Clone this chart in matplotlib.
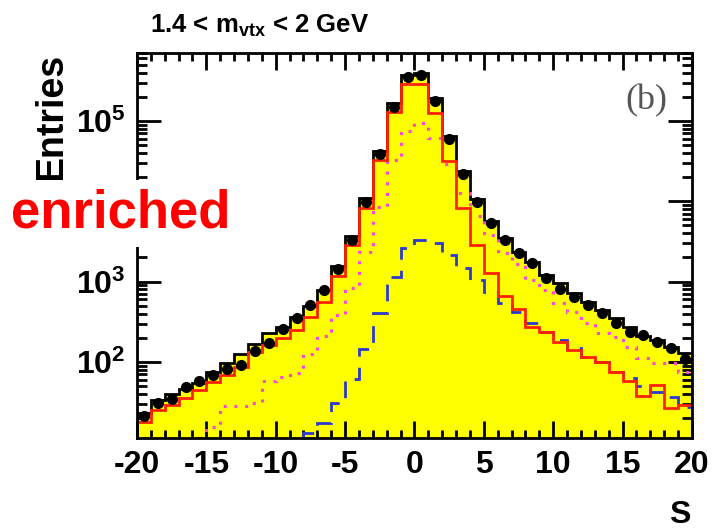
import numpy as np
import matplotlib
matplotlib.use("Agg")
import matplotlib.pyplot as plt
from matplotlib.ticker import FixedLocator, MultipleLocator, NullFormatter

plt.rcParams["font.family"] = ["Liberation Sans", "DejaVu Sans"]
plt.rcParams["mathtext.fontset"] = "custom"
plt.rcParams["mathtext.rm"] = "Liberation Sans"
plt.rcParams["mathtext.bf"] = "Liberation Sans:bold"
plt.rcParams["axes.unicode_minus"] = False

# bin edges for S (1 unit bins from -20 to 20)
edges = np.arange(-20, 21, 1)

# data points (black dots)
data = [21, 31, 35, 49, 58, 68, 82, 92, 138, 174,
        260, 350, 513, 789, 1426, 3300, 9900, 38600, 151000, 351000,
        375000, 179000, 59800, 21900, 9900, 5330, 3300, 2256, 1694, 1101,
        811, 650, 513, 411, 309, 238, 217, 179, 148, 108]

# total simulation (yellow filled, black outline)
total = [23, 33.6, 40, 45.7, 54.3, 75.7, 96, 126, 168, 228,
         275, 367, 502, 789, 1581, 3741, 11120, 42760, 166700, 375000,
         393700, 192300, 64000, 23450, 10620, 5700, 3470, 2365, 1776, 1211,
         955, 717, 564, 444, 350, 275, 211, 188, 155, 128]

# red solid component
red = [18.1, 25.2, 29.1, 35.3, 44.8, 56.9, 68.9, 87.4, 134, 163,
       197, 250, 367, 553, 1178, 2864, 8200, 32800, 127400, 289700,
       285000, 125000, 32100, 8200, 2864, 1294, 670, 457, 275, 238,
       179, 141, 116, 101, 75.7, 58, 37.8, 51.8, 26.5, 29.1]

# magenta dotted component
magenta = [1, 1, 1, 1, 1, 15.6, 27.9, 28.3, 30.6, 58,
           65, 73.6, 126, 208, 380, 828, 2365, 8590, 32800, 74800,
           94200, 61200, 29200, 12600, 6580, 3820, 2260, 1660, 1050, 789,
           547, 423, 308, 232, 203, 155, 111, 98, 96, 75.7]

# blue dashed component
blue = [1, 1, 1, 1, 1, 1, 1, 1, 1, 1,
        1, 1, 13.2, 17.5, 30.9, 61.4, 143, 404, 1153, 2606,
        3300, 3060, 2150, 1470, 1050, 750, 538, 416, 303, 238,
        188, 148, 116, 99, 75.7, 63.7, 50.2, 42.7, 37, 27.1]

fig = plt.figure(figsize=(7.13, 5.32), dpi=100)
ax = fig.add_axes([0.1921, 0.1767, 0.7784, 0.7237])

centers = (edges[:-1] + edges[1:]) / 2

# histograms
ax.stairs(total, edges, baseline=1, fill=True, color="#ffff00", zorder=1)
ax.stairs(total, edges, baseline=1, color="black", lw=2, zorder=2)
ax.stairs(magenta, edges, baseline=None, color="#ff44dd", lw=2.2,
          linestyle=(0, (1, 2.5)), zorder=3)
ax.stairs(blue, edges, baseline=None, color="#2a3acc", lw=2,
          linestyle=(0, (6, 4)), zorder=3)
ax.stairs(red, edges, baseline=None, color="#ff2200", lw=2, zorder=4)
ax.plot(centers, data, "o", color="black", ms=7, zorder=5)

# axes setup
ax.set_yscale("log")
ax.set_xlim(-20, 20)
ax.set_ylim(11.3, 7.0e5)

ax.xaxis.set_major_locator(MultipleLocator(5))
ax.xaxis.set_minor_locator(MultipleLocator(1))
ax.yaxis.set_major_locator(FixedLocator([1e2, 1e3, 1e4, 1e5]))
ax.yaxis.set_minor_formatter(NullFormatter())
# the 10^4 label sits under the "enriched" box in the original
ax.set_yticklabels([r"$\mathbf{10^{2}}$", r"$\mathbf{10^{3}}$",
                    "", r"$\mathbf{10^{5}}$"])
for lab in ax.get_xticklabels():
    lab.set_fontweight("bold")

ax.tick_params(which="both", direction="in", top=True, right=True,
               width=2, labelsize=23)
ax.tick_params(axis="x", which="major", length=12, pad=9)
ax.tick_params(axis="x", which="minor", length=6)
ax.tick_params(axis="y", which="major", length=17, pad=8)
ax.tick_params(axis="y", which="minor", length=7)
for s in ax.spines.values():
    s.set_linewidth(2)
    s.set_zorder(6)

# texts
fig.text(0.211, 0.938, r"1.4 < m$_{\mathbf{vtx}}$ < 2 GeV",
         fontsize=18.5, fontweight="bold", va="baseline")
fig.text(0.072, 0.9, "Entries", rotation=90, fontsize=27,
         fontweight="bold", ha="center", va="top")
fig.text(0.968, 0.003, "S", fontsize=23, fontweight="bold",
         ha="right", va="bottom")
fig.text(0.936, 0.81, "(b)", fontsize=26, family="Liberation Serif",
         color="#555555", ha="right", va="center")
fig.text(0.015, 0.598, "enriched", fontsize=38, fontweight="bold",
         color="red", ha="left", va="center",
         bbox=dict(facecolor="white", edgecolor="none", pad=6))

plt.savefig("out.png", dpi=100)
